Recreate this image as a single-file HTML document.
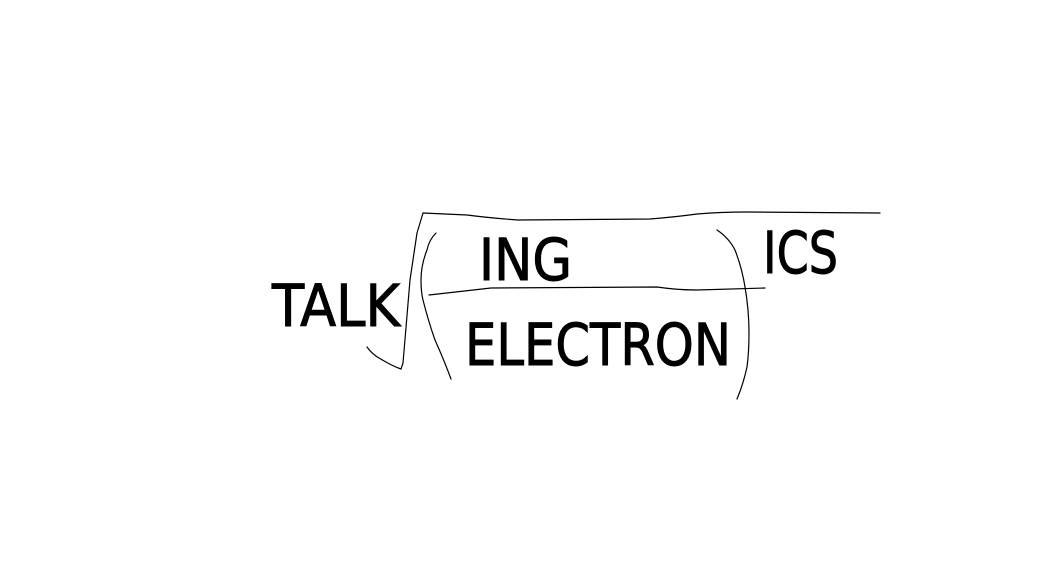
<!DOCTYPE html>
<html><head><style>html,body{margin:0;padding:0;background:#fff;}svg{display:block}</style></head>
<body>
<svg width="1050" height="561" viewBox="0 0 1050 561" xmlns="http://www.w3.org/2000/svg">
<rect width="1050" height="561" fill="#fff"/>
<g fill="none" stroke="#000" stroke-width="1.2" stroke-linejoin="round" stroke-linecap="round">
<path d="M367,347 Q372,354 379,358 Q392,366 401,369 L403,363 L410,280 L417,233 L423,213 L467,215 Q490,218 518,220 L650,219 Q675,217 697,214 Q720,212 747,212 L880,213"/>
<path d="M436,233 Q429,240 427,250 Q421,265 421,280 Q421,292 423,300 Q428,320 435,340 Q444,360 451,379"/>
<path d="M429,295 L491,288 L657,287 Q677,290 697,290 L765,288"/>
<path d="M717,230 Q729,238 735,250 Q742,268 745,287 Q749,310 749,333 Q749,352 747,367 Q743,385 737,399"/>
</g>
<g font-family="'DejaVu Sans','Liberation Sans',sans-serif" font-size="58" fill="#000" stroke="#000" stroke-width="1">
<text x="272" y="326" textLength="128" lengthAdjust="spacingAndGlyphs">TALK</text>
<text x="479" y="280" textLength="93" lengthAdjust="spacingAndGlyphs">ING</text>
<text x="465" y="365" textLength="266" lengthAdjust="spacingAndGlyphs">ELECTRON</text>
<text x="763" y="273" textLength="75" lengthAdjust="spacingAndGlyphs">ICS</text>
</g>
</svg>
</body></html>
